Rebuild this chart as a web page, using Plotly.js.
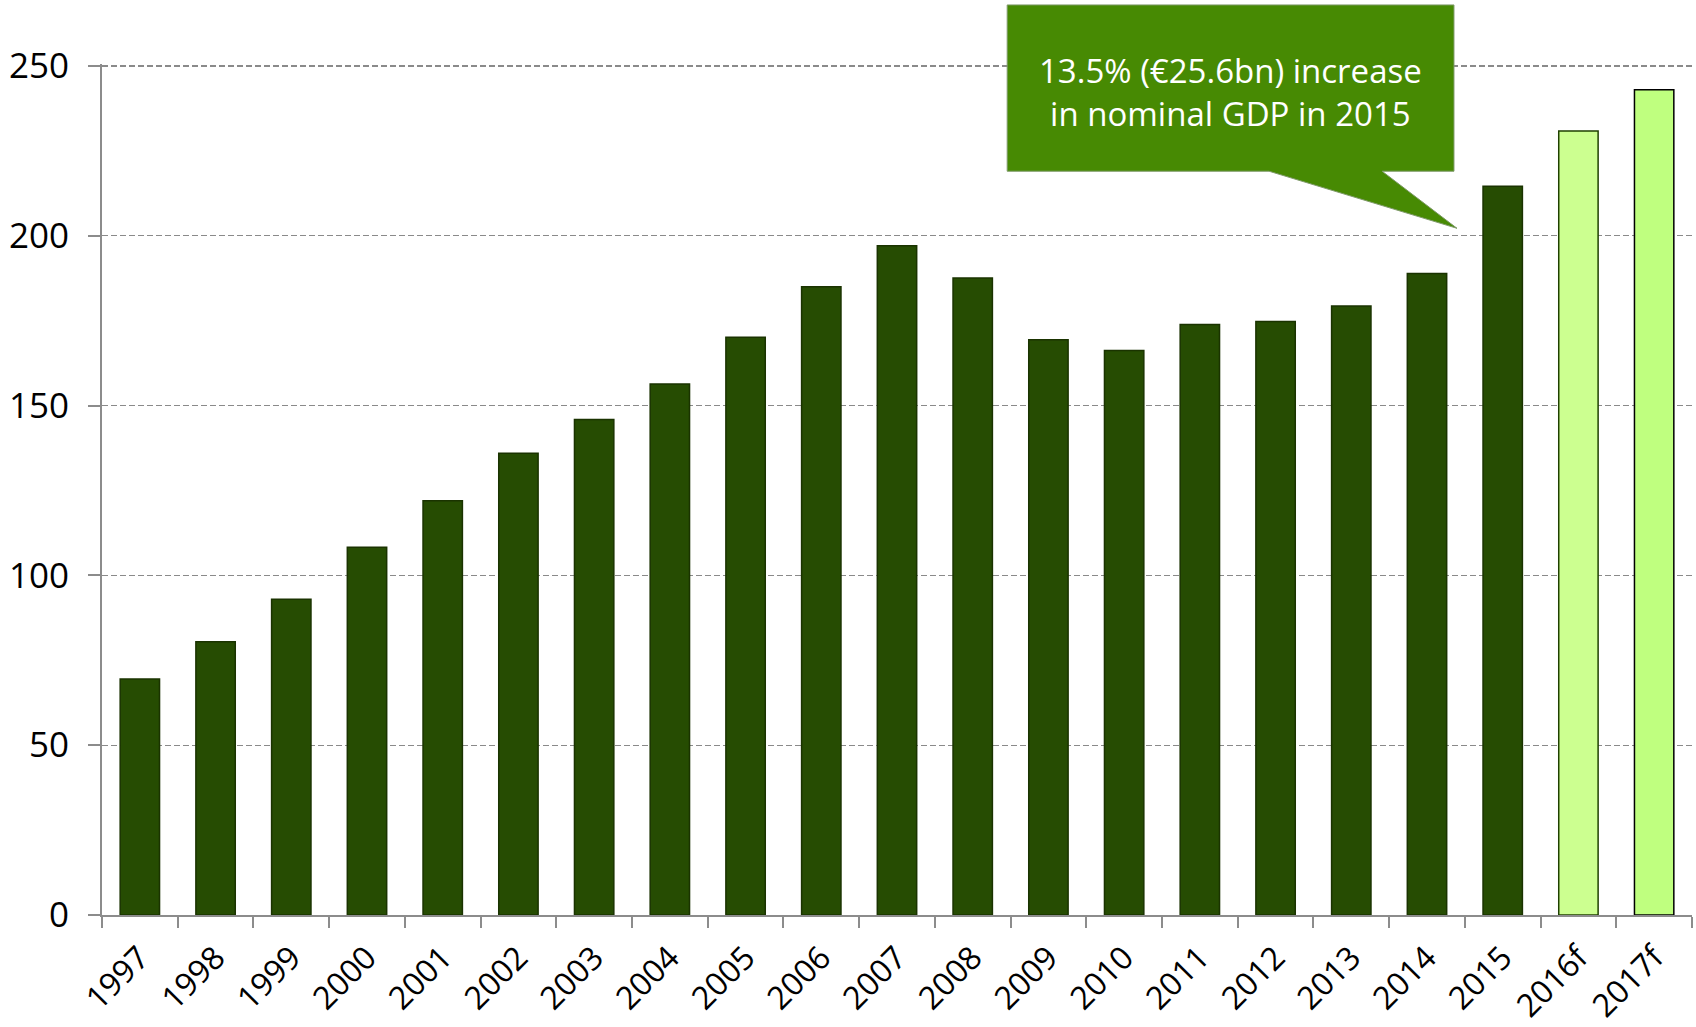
<!DOCTYPE html>
<html>
<head>
<meta charset="utf-8">
<script src="https://cdn.plot.ly/plotly-3.0.1.min.js"></script>
<style>html,body{margin:0;padding:0;background:#fff;}#chart{width:1696px;height:1027px;}</style>
</head>
<body>
<div id="chart"></div>
<script>
const years = ["1997","1998","1999","2000","2001","2002","2003","2004","2005","2006","2007","2008","2009","2010","2011","2012","2013","2014","2015","2016f","2017f"];
const gdp = [69.5, 80.5, 93.0, 108.3, 122.0, 136.0, 145.9, 156.4, 170.1, 185.0, 197.1, 187.6, 169.4, 166.2, 173.9, 174.8, 179.3, 188.9, 214.6, 230.9, 243.0];
const barColors = years.map(y => y === "2016f" ? "#ccff90" : (y === "2017f" ? "#bfff7f" : "#264c02"));
const lineColors = years.map(y => y === "2016f" ? "#1f4000" : (y === "2017f" ? "#000000" : "#1a3300"));
const yTicks = [0, 50, 100, 150, 200, 250];
const calloutText = "13.5% (€25.6bn) increase<br>in nominal GDP in 2015";

const font = "'Open Sans', 'Noto Sans', sans-serif";

const trace = {
  type: "bar",
  x: years,
  y: gdp,
  marker: {color: barColors, line: {color: lineColors, width: 1.5}},
  hoverinfo: "x+y"
};

const layout = {
  width: 1696, height: 1027,
  margin: {l: 102, r: 4, t: 63.96, b: 111.5, pad: 0},
  paper_bgcolor: "#ffffff", plot_bgcolor: "#ffffff",
  showlegend: false,
  bargap: 0.48,
  font: {family: font, color: "#000000"},
  xaxis: {
    type: "category",
    tickangle: -45,
    tickfont: {size: 32, family: font, color: "#000000"},
    ticks: "outside", ticklen: 11, tickwidth: 2, tickcolor: "#8c8c8c",
    tickson: "boundaries",
    ticklabelstandoff: 9,
    showline: true, linecolor: "#8c8c8c", linewidth: 2,
    showgrid: false, zeroline: false,
    fixedrange: true
  },
  yaxis: {
    range: [0, 250.6],
    tickvals: yTicks,
    ticktext: yTicks.map(String),
    tickfont: {size: 35, family: font, color: "#000000"},
    ticks: "outside", ticklen: 12, tickwidth: 2, tickcolor: "#8c8c8c",
    ticklabelstandoff: 12,
    showline: true, linecolor: "#8c8c8c", linewidth: 2,
    showgrid: true, gridcolor: "#8a8a8a", gridwidth: 1.2, griddash: "6px,3px",
    zeroline: false,
    fixedrange: true
  },
  shapes: [{
    type: "path", xref: "paper", yref: "paper", layer: "above",
    path: "M 0.5693 1.0694 L 0.8503 1.0694 L 0.8503 0.8740 L 0.8051 0.8740 L 0.8522 0.8069 L 0.7340 0.8740 L 0.5693 0.8740 Z",
    fillcolor: "#478a03",
    line: {color: "#7f9a6a", width: 1}
  }],
  annotations: [{
    xref: "paper", yref: "paper", x: 0.7098, y: 0.9668,
    xanchor: "center", yanchor: "middle",
    text: calloutText, showarrow: false,
    font: {size: 33, family: font, color: "#ffffff"},
    align: "center"
  }]
};

Plotly.newPlot("chart", [trace], layout, {displayModeBar: false, staticPlot: true});
</script>
</body>
</html>
